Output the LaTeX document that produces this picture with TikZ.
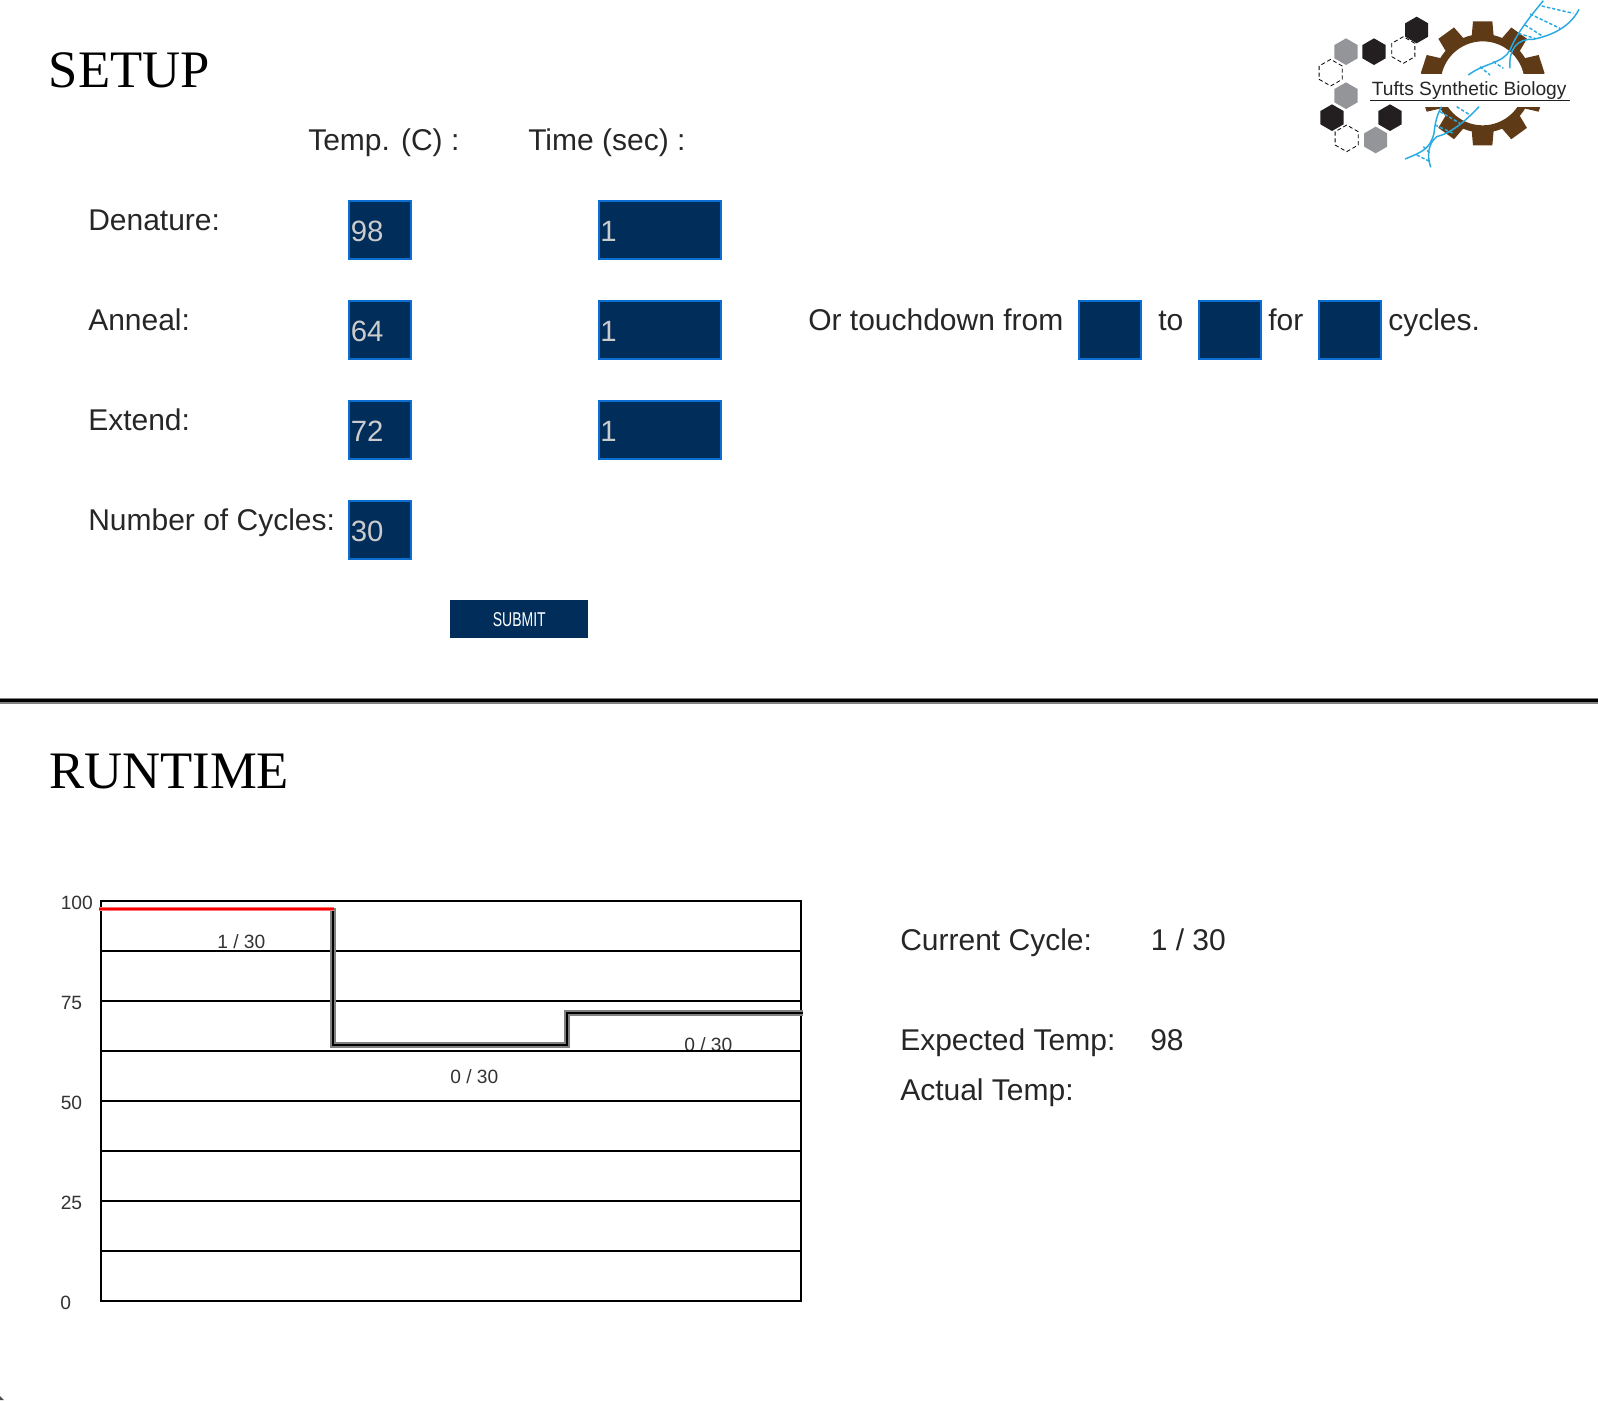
\documentclass[tikz,border=0pt]{standalone}
\usepackage{fontspec}
\setmainfont{Liberation Sans}
\newfontfamily\titlefont{Liberation Serif}
\newfontfamily\submitfont[FakeStretch=0.7]{Liberation Sans}
\usetikzlibrary{shapes.geometric,calc}

\definecolor{boxnavy}{HTML}{002D5A}
\definecolor{boxedge}{HTML}{0A6FD0}
\definecolor{gearbrown}{HTML}{5F3A17}
\definecolor{dnablue}{HTML}{29ABE2}
\definecolor{hexgray}{HTML}{939598}
\definecolor{hexdark}{HTML}{231F20}

\tikzset{
    lbl/.style={anchor=base west, inner sep=0pt, text=black!85, font=\fontsize{22.5}{27}\selectfont},
    title/.style={anchor=base west, inner sep=0pt, font=\titlefont\fontsize{39.5}{46}\selectfont},
    small/.style={anchor=base west, inner sep=0pt, text=black!80, font=\fontsize{14.4}{17}\selectfont},
    field/.style={draw=boxedge, fill=boxnavy, line width=1.5pt, anchor=north west, inner sep=0pt, minimum height=43.5pt},
    entry/.style={anchor=base west, inner sep=0pt, text=white!80!black, font=\fontsize{22}{27}\selectfont},
    gridline/.style={black, line width=1.1pt},
    profile/.style={black!50, line width=3.8pt},
    profilecore/.style={black, line width=1.8pt},
    hexcell/.style={regular polygon, regular polygon sides=6, shape border rotate=30, minimum size=20pt, inner sep=0pt},
    dna/.style={dnablue, line width=1.1pt},
    rung/.style={dnablue, line width=1.1pt, dash pattern=on 2.5pt off 1.5pt}
}

\begin{document}
\begin{tikzpicture}[x=0.75pt,y=-0.75pt]
    \useasboundingbox (0,0) rectangle (1598,1400);

    % setup part
    \node[title] (setup) at (48.5,87) {SETUP};
    \node[lbl] (temphead) at (308,150) {Temp. (C) :};
    \node[lbl] (timehead) at (528,150) {Time (sec) :};

    \foreach \name/\txt/\y/\tmp in {den/Denature:/200/98, ann/Anneal:/300/64, ext/Extend:/400/72, cyc/Number of Cycles:/500/30} {
        \node[lbl] (\name lbl) at (88,\y+30) {\txt};
        \node[field, minimum width=47pt] (\name temp) at (347.5,\y-0.5) {};
        \node[entry] (\name tempval) at (350.5,\y+41.5) {\tmp};
    }
    \foreach \name/\y in {den/200, ann/300, ext/400} {
        \node[field, minimum width=91.8pt] (\name time) at (598,\y-0.5) {};
        \node[entry] (\name timeval) at (600,\y+41.5) {1};
    }

    \node[lbl] (touch) at (808,330) {Or touchdown from};
    \node[field, minimum width=47pt] (tdfrom) at (1077.5,299.5) {};
    \node[lbl] (tdto) at (1158,330) {to};
    \node[field, minimum width=47pt] (tdend) at (1197.5,299.5) {};
    \node[lbl] (tdfor) at (1268,330) {for};
    \node[field, minimum width=47pt] (tdcyc) at (1317.5,299.5) {};
    \node[lbl] (tdtail) at (1388,330) {cycles.};

    \node[fill=boxnavy, anchor=north west, minimum width=103.5pt, minimum height=28.5pt, inner sep=0pt,
          text=white, font=\submitfont\fontsize{15}{18}\selectfont] (submit) at (450,600) {SUBMIT};

    % logo
    \begin{scope}[shift={(1280,0)},scale=1/3]
        \coordinate (hub) at (608,250);
        \foreach \a in {18,54,...,342} {
            \fill[gearbrown, rotate around={\a:(hub)}] ($(hub)+(130,-34)$) -- ($(hub)+(186,-29)$) -- ($(hub)+(186,29)$) -- ($(hub)+(130,34)$) -- cycle;
        }
        \fill[gearbrown, even odd rule] (hub) circle (148) (hub) circle (126);
        \fill[white] (390,222) rectangle (880,320);
        \node[inner sep=0pt, anchor=base west, text=black!85, font=\fontsize{14.4}{17}\selectfont] (logotext) at (275,285) {Tufts Synthetic Biology};
        \draw[hexdark, line width=1.1pt] (270,302) -- (870,302);

        \foreach \hx/\hy/\hs [count=\i] in {410/90/hexdark, 198/155/hexgray, 282/155/hexdark, 198/287/hexgray,
                156/353/hexdark, 330/353/hexdark, 287/420/hexgray} {
            \node[hexcell, fill=\hs] (hex\i) at (\hx,\hy) {};
        }
        \foreach \hx/\hy [count=\i] in {370/150, 152/218, 200/415} {
            \node[hexcell, draw=black, line width=0.6pt, densely dashed] (hexo\i) at (\hx,\hy) {};
        }

        % upper strand
        \draw[dna] (565,225) .. controls (610,190) and (670,190) .. (690,150) .. controls (710,100) and (750,50) .. (790,2);
        \draw[dna] (690,205) .. controls (685,150) and (710,115) .. (760,118) .. controls (820,105) and (870,80) .. (897,28);
        \foreach \ax/\ay/\bx/\by in {600/200/630/225, 640/185/670/205, 735/75/790/110, 750/42/840/85, 785/18/880/40, 715/100/765/115} {
            \draw[rung] (\ax,\ay) -- (\bx,\by);
        }
        % lower strand
        \draw[dna] (375,477) .. controls (430,455) and (450,445) .. (462,400) .. controls (465,370) and (470,345) .. (485,320);
        \draw[dna] (597,320) .. controls (550,370) and (510,400) .. (470,410) .. controls (445,430) and (440,465) .. (452,502);
        \foreach \ax/\ay/\bx/\by in {410/465/450/485, 430/440/450/460, 480/335/540/370, 530/320/570/345, 465/375/520/400} {
            \draw[rung] (\ax,\ay) -- (\bx,\by);
        }
    \end{scope}

    % divider
    \draw[black!50, line width=4.4pt] (0,700.8) coordinate (ruleleft) -- (1598,700.8) coordinate (ruleright);
    \draw[black, line width=2pt] (ruleleft) -- (ruleright);

    % runtime part
    \node[title] (runtime) at (49,788) {RUNTIME};

    \foreach \y [count=\i] in {951,1001,...,1251} {
        \draw[gridline] (101,\y) coordinate (gl\i) -- (801,\y) coordinate (gr\i);
    }
    \node[small] (lbla) at (217,948) {1 / 30};
    \node[small] (lblb) at (450,1083) {0 / 30};
    \node[small] (lblc) at (684,1051) {0 / 30};
    \draw[gridline] (684,1051) -- (735,1051);
    \draw[gridline] (101,901) rectangle (801,1301);

    \node[small] (tick100) at (60.5,909) {100};
    \node[small] (tick75) at (60.5,1009) {75};
    \node[small] (tick50) at (60.5,1109) {50};
    \node[small] (tick25) at (60.5,1209) {25};
    \node[small] (tick0) at (60,1309) {0};

    \coordinate (stepa) at (333,908);
    \coordinate (stepb) at (333,1045);
    \coordinate (stepc) at (567,1045);
    \coordinate (stepd) at (567,1013);
    \coordinate (stepe) at (803,1013);
    \draw[profile] (stepa) -- (stepb) -- (stepc) -- (stepd) -- (stepe);
    \draw[profilecore] (stepa) -- (stepb) -- (stepc) -- (stepd) -- (stepe);
    \coordinate (reda) at (99,909);
    \coordinate (redb) at (334,909);
    \draw[red!55, line width=3.4pt] (reda) -- (redb);
    \draw[red, line width=1.8pt] (reda) -- (redb);

    \node[lbl] (curlbl) at (900,950) {Current Cycle:};
    \node[lbl] (curval) at (1150.5,950) {1 / 30};
    \node[lbl] (explbl) at (900,1050) {Expected Temp:};
    \node[lbl] (expval) at (1150,1050) {98};
    \node[lbl] (actlbl) at (900,1100) {Actual Temp:};

    % corner mark
    \fill[black!70] (0,1396) -- (4,1400) -- (0,1400) -- cycle;
\end{tikzpicture}
\end{document}
